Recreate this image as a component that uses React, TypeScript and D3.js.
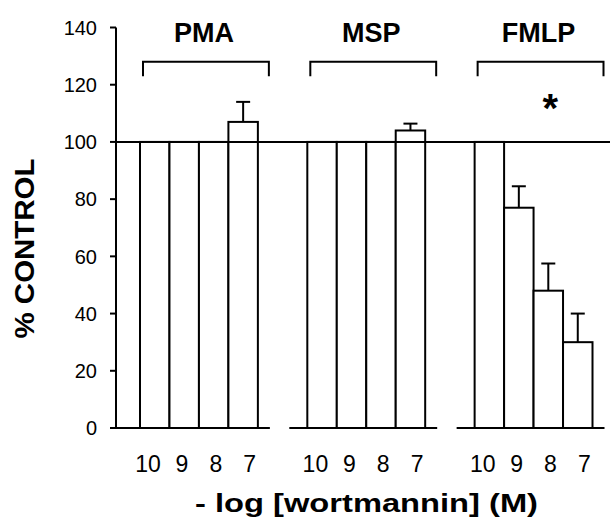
import React from "react";
import * as d3 from "d3";

// groups (stimuli) and wortmannin doses (-log M)
const groups = ["PMA", "MSP", "FMLP"];
const doses = ["10", "9", "8", "7"];

// % control
const pmaValues = [100, 100, 100, 107];
const pmaErrors = [0, 0, 0, 7];
const mspValues = [100, 100, 100, 104];
const mspErrors = [0, 0, 0, 2.4];
const fmlpValues = [100, 77, 48, 30];
const fmlpErrors = [0, 7.5, 9.5, 10];

const significant = ["FMLP"];
const yTicks = [0, 20, 40, 60, 80, 100, 120, 140];
const controlLevel = 100;

const W = 610, H = 520;
const axisX = 116;

export default function App() {
  const valuesByGroup: Record<string, number[]> = { PMA: pmaValues, MSP: mspValues, FMLP: fmlpValues };
  const errorsByGroup: Record<string, number[]> = { PMA: pmaErrors, MSP: mspErrors, FMLP: fmlpErrors };

  const y = d3.scaleLinear().domain([0, 140]).range([428, 27.5]);

  const x0 = d3.scaleBand<string>()
    .domain(groups)
    .range([140, 592.5])
    .paddingInner(0.2955)
    .paddingOuter(0);

  const x1 = d3.scaleBand<string>()
    .domain(doses)
    .range([0, x0.bandwidth()])
    .padding(0);

  const bw = x1.bandwidth();
  const mid = x0.bandwidth() / 2;
  const black = "#000";
  const sans = "'Liberation Sans', Arial, Helvetica, sans-serif";
  const narrow = "'Liberation Sans Narrow', 'Arial Narrow', 'Liberation Sans', Arial, sans-serif";

  return (
    <svg width={W} height={H} style={{ position: "absolute", left: 0, top: 0, background: "#fff" }}>
      <rect x={0} y={0} width={W} height={H} fill="#fff" />

      {/* y axis */}
      <line x1={axisX} x2={axisX} y1={y(0)} y2={y(140)} stroke={black} strokeWidth={2} />
      {yTicks.map(t => (
        <g key={t}>
          <line x1={axisX - 6} x2={axisX} y1={y(t)} y2={y(t)} stroke={black} strokeWidth={2} />
          <text x={axisX - 19} y={y(t)} dy="0.36em" textAnchor="end"
            fontFamily={sans} fontSize={20} fill={black}>{t}</text>
        </g>
      ))}

      {/* bars */}
      {groups.map((g, gi) => {
        const gx = x0(g)!;
        const vals = valuesByGroup[g];
        return (
          <g key={g}>
            {/* baseline segment of each group */}
            <line x1={gi === 0 ? axisX : gx - 18} x2={gx + x0.bandwidth() + 12}
              y1={y(0)} y2={y(0)} stroke={black} strokeWidth={2} />
            {doses.map((d, i) => (
              <rect key={d} x={gx + x1(d)!} y={y(vals[i])} width={bw} height={y(0) - y(vals[i])}
                fill="#fff" stroke={black} strokeWidth={2} />
            ))}
          </g>
        );
      })}

      {/* control line */}
      <line x1={axisX} x2={W} y1={y(controlLevel)} y2={y(controlLevel)} stroke={black} strokeWidth={2} />

      {/* error bars, labels, brackets */}
      {groups.map(g => {
        const gx = x0(g)!;
        const vals = valuesByGroup[g];
        const errs = errorsByGroup[g];
        const bx1 = gx + 3, bx2 = gx + x0.bandwidth() + 11;
        return (
          <g key={g}>
            {doses.map((d, i) => {
              if (!errs[i]) return null;
              const cx = gx + x1(d)! + bw / 2;
              return (
                <g key={d}>
                  <line x1={cx} x2={cx} y1={y(vals[i])} y2={y(vals[i] + errs[i])} stroke={black} strokeWidth={2} />
                  <line x1={cx - 7} x2={cx + 7} y1={y(vals[i] + errs[i])} y2={y(vals[i] + errs[i])} stroke={black} strokeWidth={2} />
                </g>
              );
            })}
            {doses.map((d) => {
              const c = x1(d)! + bw / 2;
              return (
                <text key={d} x={gx + mid + (c - mid) * 1.15} y={472} textAnchor="middle"
                  fontFamily={narrow} fontSize={23} fill={black}>{d}</text>
              );
            })}
            <path d={`M${bx1},${y(123)}V${y(128)}H${bx2}V${y(123)}`} fill="none" stroke={black} strokeWidth={2} />
            <text x={gx + mid + 5} y={y(135)} textAnchor="middle" fontFamily={sans} fontWeight="bold"
              fontSize={27} fill={black}>{g}</text>
            {significant.includes(g) && (
              <text x={gx + x1("8")! + bw / 2 + 2} y={y(107)} textAnchor="middle" fontFamily={sans}
                fontWeight="bold" fontSize={40} fill={black}>*</text>
            )}
          </g>
        );
      })}

      {/* axis titles */}
      <text transform={`translate(34,248.5) rotate(-90)`} textAnchor="middle" fontFamily={sans}
        fontWeight="bold" fontSize={27} textLength={180} lengthAdjust="spacingAndGlyphs" fill={black}>% CONTROL</text>
      <text x={366.5} y={512} textAnchor="middle" fontFamily={sans} fontWeight="bold" fontSize={26}
        textLength={343} lengthAdjust="spacingAndGlyphs" fill={black}>- log [wortmannin] (M)</text>
    </svg>
  );
}
